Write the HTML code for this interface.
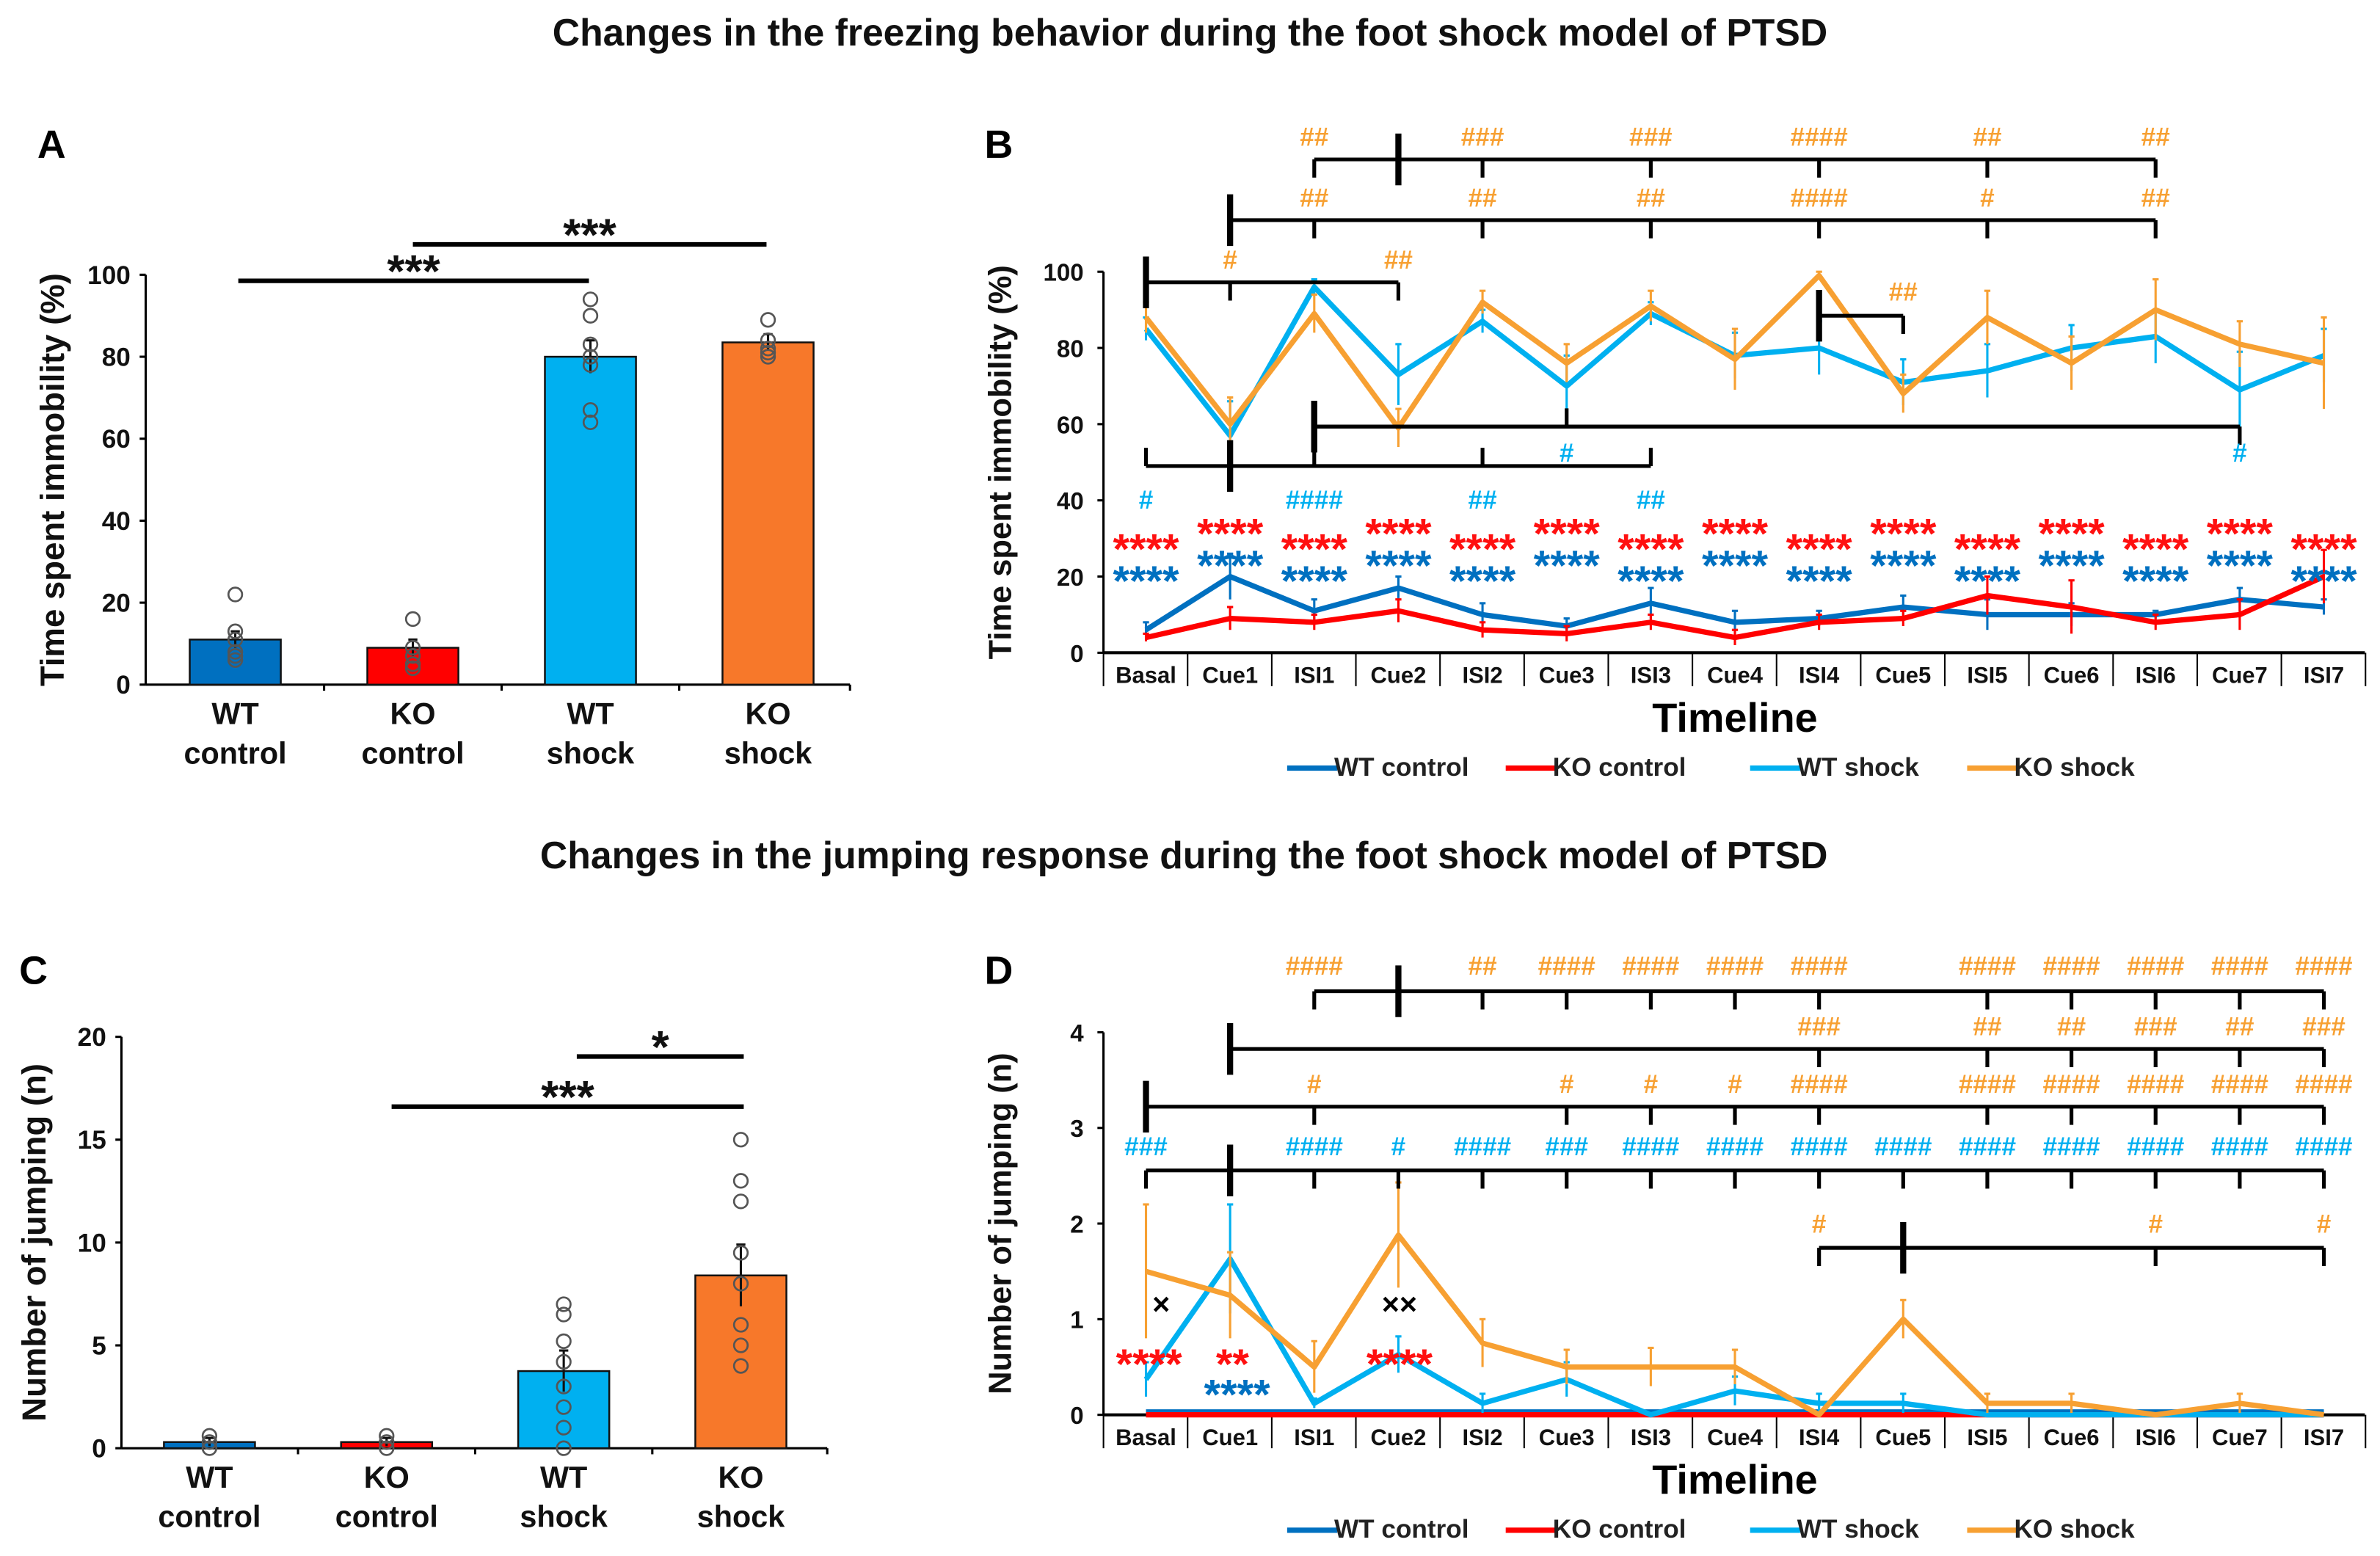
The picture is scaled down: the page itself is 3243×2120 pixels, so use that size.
<!DOCTYPE html>
<html><head><meta charset="utf-8"><style>
html,body{margin:0;padding:0;background:#fff;}
svg{display:block;font-family:"Liberation Sans",Arial,sans-serif;font-weight:bold;}
</style></head><body>
<svg id="fig" width="3243" height="2120" viewBox="0 0 1568 1025" preserveAspectRatio="none" xmlns="http://www.w3.org/2000/svg"></svg>
<script>
// ---------- data ----------
const timeline = ["Basal","Cue1","ISI1","Cue2","ISI2","Cue3","ISI3","Cue4","ISI4","Cue5","ISI5","Cue6","ISI6","Cue7","ISI7"];
const groups = ["WT control","KO control","WT shock","KO shock"];
const groupTop = ["WT","KO","WT","KO"];
const groupBottom = ["control","control","shock","shock"];
const barA = [11, 9, 80, 83.5];
const barAErr = [2, 2, 4, 2];
const dotsA = [[22,13,11,8,7,6],[16,9,7,5,4],[94,90,83,80,78,67,64],[89,84,82,81,80]];
const barC = [0.3, 0.3, 3.75, 8.4];
const barCErr = [0.2, 0.2, 1.0, 1.5];
const dotsC = [[0.6,0.3,0],[0.6,0.3,0],[7,6.5,5.2,4.2,3,2,1,0],[15,13,12,9.5,8,6,5,4]];
const bWTc = [6,20,11,17,10,7,13,8,9,12,10,10,10,14,12];
const bWTcErr = [2,6,3,3,3,2,4,3,2,3,4,3,1,3,2];
const bKOc = [4,9,8,11,6,5,8,4,8,9,15,12,8,10,20];
const bKOcErr = [1,3,2,3,2,2,2,2,2,2,5,7,2,4,7];
const bWTs = [85,57,96,73,87,70,89,78,80,71,74,80,83,69,78];
const bWTsErr = [3,9,2,8,3,8,3,6,7,6,7,6,7,10,7];
const bKOs = [88,60,89,59,92,76,91,77,99,68,88,76,90,81,76];
const bKOsErr = [4,7,5,5,3,5,4,8,1,5,7,7,8,6,12];
const dWTc = [0.03,0.03,0.03,0.03,0.03,0.03,0.03,0.03,0.03,0.03,0.03,0.03,0.03,0.03,0.03];
const dKOc = [0,0,0,0,0,0,0,0,0,0,0,0,0,0,0];
const dWTs = [0.37,1.63,0.12,0.63,0.12,0.37,0,0.25,0.12,0.12,0,0,0,0,0];
const dWTsErr = [0.18,0.57,0.05,0.19,0.1,0.18,0,0.15,0.1,0.1,0,0,0,0,0];
const dKOs = [1.5,1.25,0.5,1.88,0.75,0.5,0.5,0.5,0,1,0.12,0.12,0,0.12,0];
const dKOsErr = [0.7,0.45,0.27,0.55,0.25,0.18,0.2,0.18,0,0.2,0.1,0.1,0,0.1,0];
const ticksA = [0,20,40,60,80,100];
const ticksC = [0,5,10,15,20];
const ticksB = [0,20,40,60,80,100];
const ticksD = [0,1,2,3,4];

// ---------- helpers ----------
const NS="http://www.w3.org/2000/svg";
const svg=document.getElementById('fig');
function mk(tag,attrs,name,parent){
  const el=document.createElementNS(NS,tag);
  for(const k in attrs) el.setAttribute(k,attrs[k]);
  
  
  (parent||svg).appendChild(el);
  return el;
}
function L(x1,y1,x2,y2,c,w,name){return mk('line',{x1,y1,x2,y2,stroke:c,'stroke-width':w},name);}
function T(x,y,s,size,c,name,anchor,extra){const t=mk('text',Object.assign({x,y,'font-size':size,fill:c,'text-anchor':anchor||'middle'},extra||{}),name);t.textContent=s;return t;}

const xA=i=>155+117*i, yA=v=>451-2.7*v;
const xC=i=>138+116.7*i, yC=v=>954-13.55*v;
const xT=i=>755+55.43*i;
const yB=v=>430-2.51*v, yD=v=>932-63*v;
const barCol=["#0070c0","#ff0000","#00b0f0","#f7782a"];
const lineCol=["#0070c0","#ff0000","#00b0f0","#f7a032"];
const OR="#f7a032", CY="#00b0f0";

// titles
T(784,30,"Changes in the freezing behavior during the foot shock model of PTSD",25,"#111","title-top");
T(780,572,"Changes in the jumping response during the foot shock model of PTSD",25,"#111","title-bottom");
T(34,104,"A",26,"#000","panel-a-label");
T(658,104,"B",26,"#000","panel-b-label");
T(22,648,"C",26,"#000","panel-c-label");
T(658,648,"D",26,"#000","panel-d-label");

// ---------- bar panels ----------
function barPanel(xf,yf,vals,errs,dots,ticks,x0,xEnd,title,titleX,sig,prefix){
  L(x0,yf(0),x0,yf(ticks[ticks.length-1]),"#000",1.5,prefix+"-y-axis");
  L(x0,yf(0),xEnd,yf(0),"#000",1.5,prefix+"-x-axis");
  ticks.forEach(t=>{L(x0-4,yf(t),x0,yf(t),"#000",1.5,prefix+"-y-tick");T(x0-10,yf(t)+6,String(t),17,"#111",prefix+"-y-tick-label","end");});
  for(let i=1;i<4;i++) L((xf(i-1)+xf(i))/2,yf(0),(xf(i-1)+xf(i))/2,yf(0)+4,"#000",1.5,prefix+"-x-tick");
  L(xEnd,yf(0),xEnd,yf(0)+4,"#000",1.5,prefix+"-x-tick");
  const g=mk('text',{x:0,y:0,'font-size':22,fill:"#111",'text-anchor':'middle',transform:`translate(${titleX},${(yf(0)+yf(ticks[ticks.length-1]))/2}) rotate(-90)`},prefix+"-y-axis-title");
  g.textContent=title;
  vals.forEach((v,i)=>{
    mk('rect',{x:xf(i)-30,y:yf(v),width:60,height:yf(0)-yf(v),fill:barCol[i],stroke:"#111",'stroke-width':1.2},prefix+"-bar-"+i);
    L(xf(i),yf(v+errs[i]),xf(i),yf(v-errs[i]),"#111",1.5,prefix+"-error-bar");
    L(xf(i)-3,yf(v+errs[i]),xf(i)+3,yf(v+errs[i]),"#111",1.5,prefix+"-error-cap");
    dots[i].forEach(d=>mk('circle',{cx:xf(i),cy:yf(d),r:4.5,fill:"none",stroke:"#555",'stroke-width':1.3},prefix+"-data-point"));
    T(xf(i),yf(0)+26,groupTop[i],20,"#111",prefix+"-x-label");
    T(xf(i),yf(0)+52,groupBottom[i],20,"#111",prefix+"-x-label");
  });
  sig.forEach(s=>{L(s[0],s[2],s[1],s[2],"#000",3,prefix+"-significance-line");T((s[0]+s[1])/2,s[2]+4,s[3],30,"#111",prefix+"-significance-stars");});
}
barPanel(xA,yA,barA,barAErr,dotsA,ticksA,96,560,"Time spent immobility (%)",42,[[157,388,185,"***"],[272,505,161,"***"]],"panel-a");
barPanel(xC,yC,barC,barCErr,dotsC,ticksC,80,545,"Number of jumping (n)",30,[[380,490,696,"*"],[258,490,729,"***"]],"panel-c");

// ---------- line panels ----------
function linePanel(yf,ticks,series,errsArr,prefix,legendY){
  const y0=yf(0);
  L(727,y0,727,yf(ticks[ticks.length-1]),"#000",1.5,prefix+"-y-axis");
  L(727,y0,1558,y0,"#000",2,prefix+"-x-axis");
  ticks.forEach(t=>{L(723,yf(t),727,yf(t),"#000",1.5,prefix+"-y-tick");T(714,yf(t)+6,String(t),16,"#111",prefix+"-y-tick-label","end");});
  for(let i=0;i<=15;i++) L(727+55.43*i,y0,727+55.43*i,y0+22,"#000",1,prefix+"-category-divider");
  timeline.forEach((c,i)=>T(xT(i),y0+20,c,15,"#111",prefix+"-category-label"));
  T(1143,y0+52,"Timeline",27,"#000",prefix+"-x-axis-title");
  series.forEach((s,k)=>{
    const e=errsArr[k];
    if(e) s.forEach((v,i)=>{ if(e[i]>0){
      L(xT(i),yf(v+e[i]),xT(i),yf(Math.max(0,v-e[i])),lineCol[k],1.5,prefix+"-error-bar");
      L(xT(i)-2,yf(v+e[i]),xT(i)+2,yf(v+e[i]),lineCol[k],1.5,prefix+"-error-cap");}});
    mk('polyline',{points:s.map((v,i)=>xT(i)+","+yf(v)).join(" "),fill:"none",stroke:lineCol[k],'stroke-width':3.5,'stroke-linejoin':'round'},prefix+"-line-"+groups[k].replace(" ","-").toLowerCase());
  });
  const lx=[848,992,1153,1296];
  groups.forEach((g,k)=>{L(lx[k],legendY-5,lx[k]+33,legendY-5,lineCol[k],3.5,prefix+"-legend-swatch");T(lx[k]+31,legendY,g,17,"#222",prefix+"-legend-entry","start");});
}
linePanel(yB,ticksB,[bWTc,bKOc,bWTs,bKOs],[bWTcErr,bKOcErr,bWTsErr,bKOsErr],"panel-b",511);
linePanel(yD,ticksD,[dWTc,dKOc,dWTs,dKOs],[null,null,dWTsErr,dKOsErr],"panel-d",1013);

// ---------- brackets ----------
function bracket(y,s,e,th,ticks,dir,labels,ly,col,prefix){
  L(xT(s),y,xT(e),y,"#000",2.5,prefix+"-bracket-line");
  L(xT(th),y-17,xT(th),y+17,"#000",4,prefix+"-bracket-reference");
  ticks.forEach((t,j)=>{
    L(xT(t),y,xT(t),y+12*dir,"#000",2.5,prefix+"-bracket-tick");
    if(labels[j]) T(xT(t),ly,labels[j],17,col,prefix+"-hash-label");
  });
}
bracket(105,2,12,3,[2,4,6,8,10,12],1,["##","###","###","####","##","##"],96,OR,"panel-b");
bracket(145,1,12,1,[2,4,6,8,10,12],1,["##","##","##","####","#","##"],136,OR,"panel-b");
bracket(186,0,3,0,[1,3],1,["#","##"],177,OR,"panel-b");
bracket(208,8,9,8,[9],1,["##"],198,OR,"panel-b");
bracket(281,2,13,2,[5],-1,["#"],304,CY,"panel-b");
bracket(281,2,13,2,[13],1,["#"],304,CY,"panel-b");
bracket(307,0,6,1,[0,2,4,6],-1,["#","####","##","##"],335,CY,"panel-b");
timeline.forEach((c,i)=>{
  const cue=i%2===1;
  T(xT(i),cue?361:371,"****",28,"#ff1010","panel-b-red-stars");
  T(xT(i),cue?382:392,"****",28,"#0070c0","panel-b-blue-stars");
});
bracket(653,2,14,3,[2,4,5,6,7,8,10,11,12,13,14],1,["####","##","####","####","####","####","####","####","####","####","####"],642,OR,"panel-d");
bracket(691,1,14,1,[8,10,11,12,13,14],1,["###","##","##","###","##","###"],682,OR,"panel-d");
bracket(729,0,14,0,[2,5,6,7,8,10,11,12,13,14],1,["#","#","#","#","####","####","####","####","####","####"],720,OR,"panel-d");
bracket(771,0,14,1,[0,1,2,3,4,5,6,7,8,9,10,11,12,13,14],1,["###","","####","#","####","###","####","####","####","####","####","####","####","####","####"],761,CY,"panel-d");
bracket(822,8,14,9,[8,12,14],1,["#","#","#"],812,OR,"panel-d");
T(765,866,"×",20,"#000","panel-d-cross");
T(922,866,"××",20,"#000","panel-d-cross");
T(757,908,"****",28,"#ff1010","panel-d-red-stars");
T(812,908,"**",28,"#ff1010","panel-d-red-stars");
T(922,908,"****",28,"#ff1010","panel-d-red-stars");
T(815,928,"****",28,"#0070c0","panel-d-blue-stars");
[[yB,ticksB,"Time spent immobility (%)","panel-b"],[yD,ticksD,"Number of jumping (n)","panel-d"]].forEach(a=>{
  const g=mk('text',{x:0,y:0,'font-size':21,fill:"#111",'text-anchor':'middle',transform:`translate(666,${(a[0](0)+a[0](a[1][a[1].length-1]))/2}) rotate(-90)`},a[3]+"-y-axis-title");
  g.textContent=a[2];
});
</script>
</body></html>
